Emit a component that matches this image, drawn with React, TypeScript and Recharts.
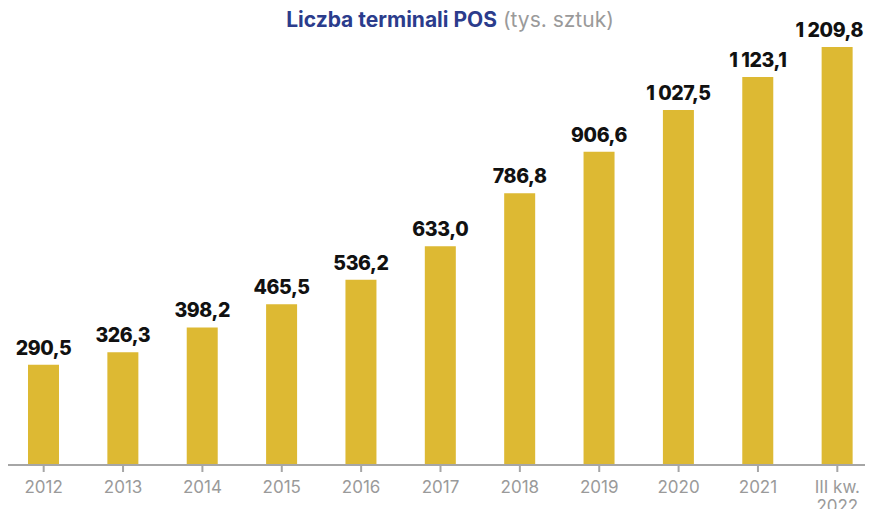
import React from 'react';
import { BarChart, Bar, XAxis, YAxis, LabelList } from 'recharts';

const years = ['2012', '2013', '2014', '2015', '2016', '2017', '2018', '2019', '2020', '2021', 'III kw. 2022'];
const terminals = [290.5, 326.3, 398.2, 465.5, 536.2, 633.0, 786.8, 906.6, 1027.5, 1123.1, 1209.8];

const data = years.map((year, i) => ({ year, value: terminals[i] }));

const CHART_W = 873;

const fmt = (v: number) => {
  const [int, dec] = v.toFixed(1).split('.');
  const withSpace = int.replace(/\B(?=(\d{3})+(?!\d))/g, '\u00a0');
  return `${withSpace},${dec}`;
};

const YearTick = ({ x, y, payload }: { x?: number; y?: number; payload?: { value: string } }) => {
  const v = payload?.value ?? '';
  const lines = v.startsWith('III') ? ['III kw.', '2022'] : [v];
  return (
    <g transform={`translate(${x},${y})`}>
      {lines.map((l, i) => (
        <text key={i} x={0} y={19 + i * 19} textAnchor="middle" fill="#9a9a9a" fontSize={17} fontFamily="Inter, sans-serif">
          {l}
        </text>
      ))}
    </g>
  );
};

const ValueLabel = ({ x, y, width, value }: { x?: number; y?: number; width?: number; value?: number }) => {
  const text = fmt(Number(value));
  const cx = (x ?? 0) + (width ?? 0) / 2;
  // rough text width estimate, keep label inside the picture
  const half = text.length * 5.6;
  const limit = CHART_W - 10;
  const overflow = cx + half > limit;
  return (
    <text
      x={overflow ? limit : cx}
      y={(y ?? 0) - 10}
      textAnchor={overflow ? 'end' : 'middle'}
      fill="#111"
      fontSize={19.5}
      fontWeight={800}
      fontFamily="Inter, sans-serif"
      letterSpacing={-0.4}
    >
      {text}
    </text>
  );
};

export default function App() {
  return (
    <div style={{ position: 'relative', width: 873, height: 517, margin: -8, background: '#fff', overflow: 'hidden' }}>
      <div
        style={{
          position: 'absolute',
          top: 7,
          left: 0,
          width: 900,
          textAlign: 'center',
          fontFamily: 'Inter, sans-serif',
          fontSize: 21,
        }}
      >
        <span style={{ color: '#2b3c8c', fontWeight: 700 }}>Liczba terminali POS</span>{' '}
        <span style={{ color: '#9a9a9a' }}>(tys. sztuk)</span>
      </div>
      <BarChart width={CHART_W} height={517} data={data} margin={{ top: 47, right: -4, left: 4, bottom: 12 }}>
        <YAxis hide domain={[0, 1209.8]} />
        <XAxis
          dataKey="year"
          height={40}
          interval={0}
          axisLine={{ stroke: '#a6a6a6', strokeWidth: 2 }}
          tickLine={{ stroke: '#a6a6a6', strokeWidth: 2 }}
          tickSize={7}
          tick={<YearTick />}
        />
        <Bar dataKey="value" fill="#ddb933" barSize={31} isAnimationActive={false}>
          <LabelList dataKey="value" content={<ValueLabel />} />
        </Bar>
      </BarChart>
    </div>
  );
}
